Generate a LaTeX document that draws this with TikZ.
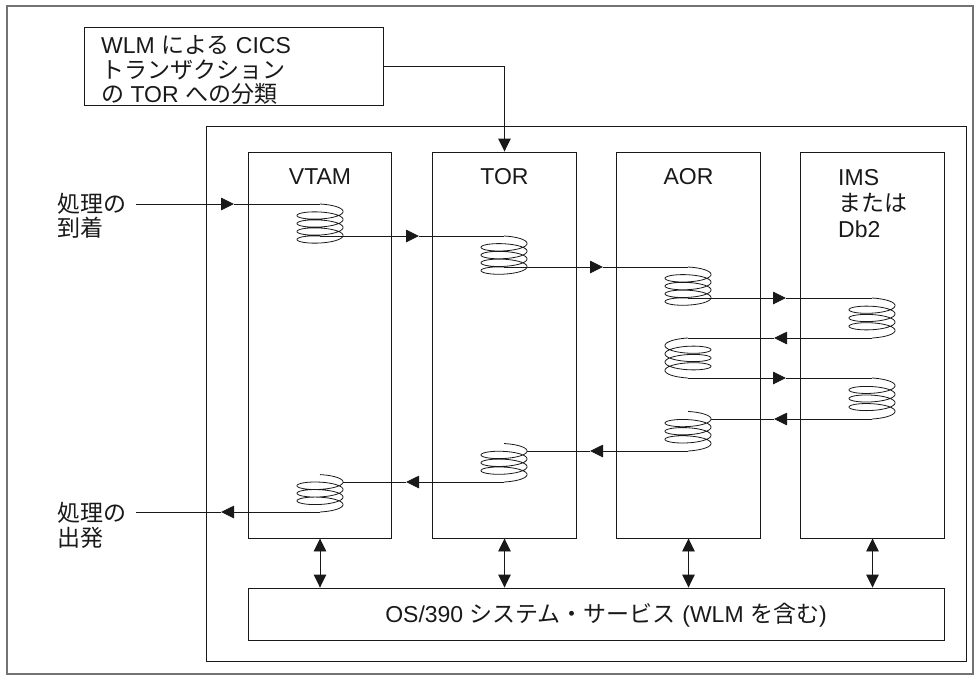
\documentclass[tikz,border=0pt]{standalone}
\usepackage{fontspec}
\setmainfont{Liberation Sans}
\newfontfamily\jp{Noto Sans CJK JP}
\usetikzlibrary{arrows.meta}
\newcommand\mycoil[5]{\draw[coilline] plot[domain=0:#5,samples=300,smooth,variable=\t] ({#1+#3*23*sin(\t)},{#2+5.5*(1-cos(\t))+#4*\t/360});}
\tikzset{
  lc/.style={line width=0.9pt, draw=black!90},
  boxstyle/.style={lc, inner sep=0pt, fill=none},
  colbox/.style={boxstyle, minimum width=143.5pt, minimum height=386pt},
  conn/.style={lc},
  arr/.style={-{Triangle[length=13pt,width=12.5pt]}},
  dbl/.style={{Triangle[length=13pt,width=12.5pt]}-{Triangle[length=13pt,width=12.5pt]}},
  coilline/.style={line width=0.8pt, draw=black!90},
  lbl/.style={inner sep=0pt, font=\fontsize{23}{25}\selectfont, text=black!90}
}
\begin{document}
\begin{tikzpicture}[x=1pt,y=-1pt]
\useasboundingbox (0,0) rectangle (979,680);
% outer frame
\node[draw=black!55, line width=1.3pt, minimum width=966pt, minimum height=668pt, inner sep=0] (outer) at (490,340) {};
% classification box
\node[boxstyle, minimum width=299pt, minimum height=78pt] (cls) at (233.5,66) {};
\node[lbl, anchor=base west] (c1) at (101,53.5) {WLM {\jp による} CICS};
\node[lbl, anchor=base west] (c2) at (101,78) {\jp トランザクション};
\node[lbl, anchor=base west] (c3) at (101,102.5) {{\jp の} TOR {\jp への分類}};
% inner frame
\node[boxstyle, minimum width=760pt, minimum height=535pt] (inner) at (586,393.5) {};
% columns
\node[colbox] (vtam) at (320,345) {};
\node[colbox] (tor) at (504.5,345) {};
\node[colbox] (aor) at (688.5,345) {};
\node[colbox] (ims) at (872.5,345) {};
\node[boxstyle, minimum width=696pt, minimum height=52pt] (bar) at (596,614) {};
% labels
\node[lbl, anchor=base] (lv) at (320,184.5) {VTAM};
\node[lbl, anchor=base] (lt) at (504.5,184.5) {TOR};
\node[lbl, anchor=base] (la) at (688.5,184.5) {AOR};
\node[lbl, anchor=base west] (li1) at (838,185) {IMS};
\node[lbl, anchor=base west] (li2) at (838,211) {\jp または};
\node[lbl, anchor=base west] (li3) at (838,237) {Db2};
\node[lbl, anchor=base west] (in1) at (57,212.5) {\jp 処理の};
\node[lbl, anchor=base west] (in2) at (57,236.5) {\jp 到着};
\node[lbl, anchor=base west] (out1) at (57,521.5) {\jp 処理の};
\node[lbl, anchor=base west] (out2) at (57,546.5) {\jp 出発};
\node[lbl, anchor=base] (lbar) at (606,622.5) {OS/390 {\jp システム・サービス} (WLM {\jp を含む})};
% classification arrow
\draw[conn,arr] (cls.east) -| (tor.north);
% double arrows
\foreach \c in {vtam,tor,aor,ims}{
  \draw[conn,dbl] (\c.south) -- (\c.south |- bar.north);
}
% coils
\mycoil{320}{204}{1}{8}{1440}
\mycoil{504}{236}{1}{7.75}{1440}
\mycoil{688}{267}{1}{7.75}{1440}
\mycoil{872}{298}{1}{8.286}{1260}
\mycoil{688}{338}{-1}{8.286}{1260}
\mycoil{872}{378}{1}{8.571}{1260}
\mycoil{688}{411.46}{1}{8.154}{1260}
\mycoil{504}{443.54}{1}{7.846}{1260}
\mycoil{320}{474.6}{1}{7.538}{1260}
% coil end coordinates
\coordinate (ain) at (136,204);
\coordinate (v1s) at (320,204);
\coordinate (v1e) at (320,236);
\coordinate (t1s) at (504,236);
\coordinate (t1e) at (504,267);
\coordinate (a1s) at (688,267);
\coordinate (a1e) at (688,298);
\coordinate (i1s) at (872,298);
\coordinate (i1e) at (872,338);
\coordinate (a2s) at (688,338);
\coordinate (a2e) at (688,378);
\coordinate (i2s) at (872,378);
\coordinate (i2e) at (872,419);
\coordinate (a3s) at (711,419);
\coordinate (a3e) at (688,451);
\coordinate (t2s) at (527,451);
\coordinate (t2e) at (504,482);
\coordinate (v2s) at (343,482);
\coordinate (v2e) at (320,512);
\coordinate (dout) at (136,512);
% arrow tips
\coordinate (k1) at (234,204);
\coordinate (k2) at (419,236);
\coordinate (k3) at (603,267);
\coordinate (k4) at (786,298);
\coordinate (k5) at (774,338);
\coordinate (k6) at (786,378);
\coordinate (k7) at (774,419);
\coordinate (k8) at (590,451);
\coordinate (k9) at (406,482);
\coordinate (k10) at (221,512);
% flow connectors
\draw[conn,arr] (ain) -- (k1); \draw[conn] (k1) -- (v1s);
\draw[conn,arr] (v1e) -- (k2); \draw[conn] (k2) -- (t1s);
\draw[conn,arr] (t1e) -- (k3); \draw[conn] (k3) -- (a1s);
\draw[conn,arr] (a1e) -- (k4); \draw[conn] (k4) -- (i1s);
\draw[conn,arr] (i1e) -- (k5); \draw[conn] (k5) -- (a2s);
\draw[conn,arr] (a2e) -- (k6); \draw[conn] (k6) -- (i2s);
\draw[conn,arr] (i2e) -- (k7); \draw[conn] (k7) -- (a3s);
\draw[conn,arr] (a3e) -- (k8); \draw[conn] (k8) -- (t2s);
\draw[conn,arr] (t2e) -- (k9); \draw[conn] (k9) -- (v2s);
\draw[conn,arr] (v2e) -- (k10); \draw[conn] (k10) -- (dout);
\end{tikzpicture}
\end{document}
